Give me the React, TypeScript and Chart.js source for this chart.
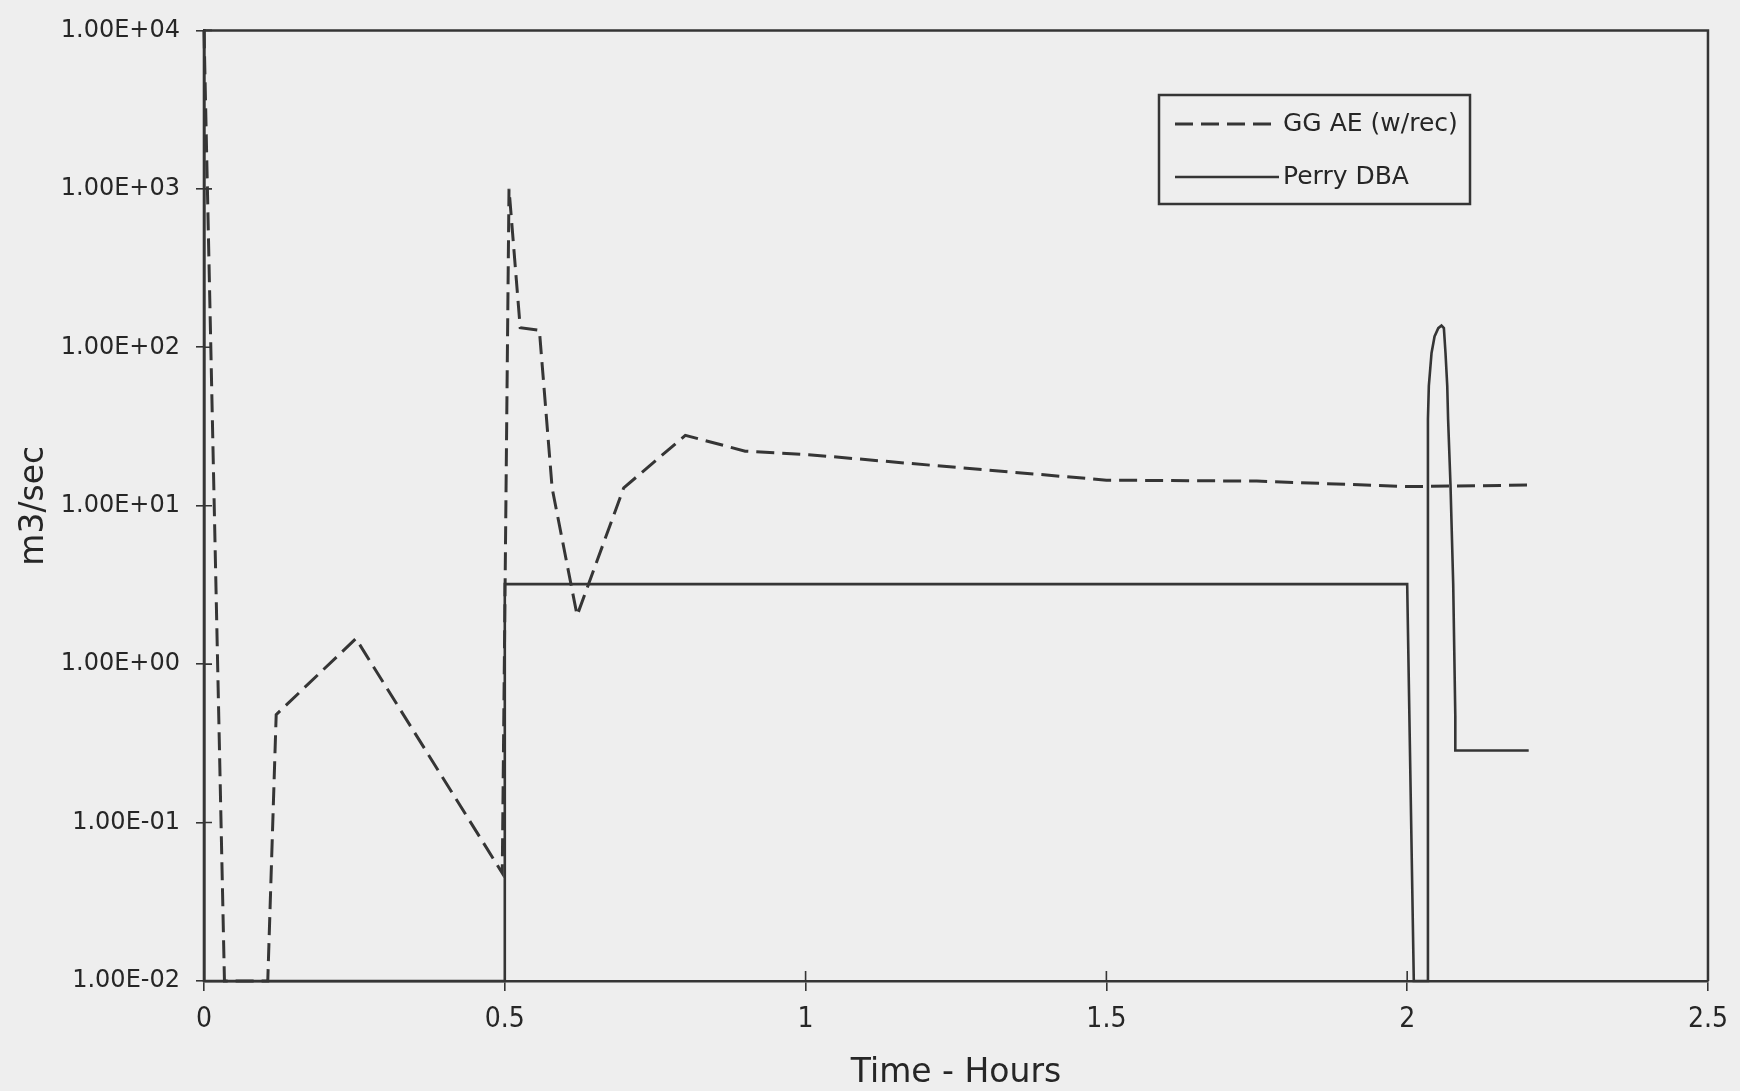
import React, { useEffect, useRef } from "react";
import { Chart, registerables } from "chart.js";

Chart.register(...registerables);

// ---- data ----
const seriesNames = ["GG AE (w/rec)", "Perry DBA"];

const ggHours = [0, 0.034, 0.106, 0.12, 0.2525, 0.4958, 0.507, 0.5256, 0.5575, 0.5787, 0.6202, 0.6977, 0.8001, 0.8996, 1.005, 1.209, 1.5, 1.75, 2.0, 2.202];
const ggRate = [10000, 0.01, 0.01, 0.48, 1.45, 0.048, 1000, 133, 128, 12.9, 2.03, 12.96, 27.8, 22.1, 21.0, 18.0, 14.5, 14.3, 13.2, 13.5];

const perryHours = [0, 0, 0.5, 0.5, 2.0, 2.011, 2.0334, 2.0345, 2.036, 2.0405, 2.0455, 2.0517, 2.057, 2.061, 2.0637, 2.0666, 2.068, 2.072, 2.0765, 2.08, 2.08, 2.202];
const perryRate = [10000, 0.01, 0.01, 3.2, 3.2, 0.01, 0.01, 35.3, 57, 92, 117, 132, 137, 132, 92, 57, 35.3, 13.5, 3.2, 0.47, 0.285, 0.285];

const xTickValues = [0, 0.5, 1, 1.5, 2, 2.5];
const xTickLabels = ["0", "0.5", "1", "1.5", "2", "2.5"];
const yTickValues = [0.01, 0.1, 1, 10, 100, 1000, 10000];
const yTickLabels = ["1.00E-02", "1.00E-01", "1.00E+00", "1.00E+01", "1.00E+02", "1.00E+03", "1.00E+04"];

const xTitle = "Time - Hours";
const yTitle = "m3/sec";

// ---- styles ----
const W = 1740;
const H = 1091;
const BG = "#eeeeee";
const INK = "#353535";
const TEXT = "#262626";
const DASH = [18, 8];

const framePlugin = {
  id: "frameAndLegend",
  afterDraw(chart: any) {
    const { ctx, chartArea: a, scales } = chart;
    ctx.save();
    ctx.strokeStyle = INK;
    ctx.lineWidth = 2.5;
    ctx.beginPath();
    ctx.moveTo(a.left, a.top);
    ctx.lineTo(a.right, a.top);
    ctx.lineTo(a.right, a.bottom);
    ctx.stroke();

    // inward halves of the crossing tick marks
    ctx.lineWidth = 1.6;
    ctx.beginPath();
    scales.y.ticks.forEach((t: any) => {
      const y = scales.y.getPixelForValue(t.value);
      ctx.moveTo(a.left, y);
      ctx.lineTo(a.left + 8, y);
    });
    scales.x.ticks.forEach((t: any) => {
      const x = scales.x.getPixelForValue(t.value);
      ctx.moveTo(x, a.bottom);
      ctx.lineTo(x, a.bottom - 10);
    });
    ctx.stroke();

    // legend box
    const bx = 1159, by = 95, bw = 311, bh = 109;
    ctx.lineWidth = 2.5;
    ctx.strokeRect(bx, by, bw, bh);
    const rows = [124, 177];
    chart.data.datasets.forEach((ds: any, i: number) => {
      const y = rows[i];
      ctx.beginPath();
      ctx.setLineDash(ds.borderDash || []);
      ctx.lineWidth = ds.borderWidth;
      ctx.strokeStyle = ds.borderColor;
      ctx.moveTo(1175, y);
      ctx.lineTo(1279, y);
      ctx.stroke();
      ctx.setLineDash([]);
      ctx.fillStyle = TEXT;
      ctx.font = "25px 'DejaVu Sans'";
      ctx.textAlign = "left";
      ctx.textBaseline = "middle";
      ctx.fillText(ds.label, 1283, y);
    });
    ctx.restore();
  },
};

export default function App() {
  const ref = useRef<HTMLCanvasElement | null>(null);

  useEffect(() => {
    document.body.style.margin = "0";
    document.body.style.background = BG;
    const canvas = ref.current;
    if (!canvas) return;

    const gg = ggHours.map((x, i) => ({ x, y: ggRate[i] }));
    const perry = perryHours.map((x, i) => ({ x, y: perryRate[i] }));

    const chart = new Chart(canvas, {
      type: "line",
      data: {
        datasets: [
          {
            label: seriesNames[0],
            data: gg,
            borderColor: INK,
            borderWidth: 3,
            borderDash: DASH,
            pointRadius: 0,
            tension: 0,
            fill: false,
            clip: 2,
          },
          {
            label: seriesNames[1],
            data: perry,
            borderColor: INK,
            borderWidth: 2.6,
            pointRadius: 0,
            tension: 0,
            fill: false,
            clip: 2,
          },
        ],
      },
      options: {
        responsive: false,
        animation: false,
        devicePixelRatio: 1,
        layout: { padding: { top: 21, right: 29, left: 0, bottom: 0 } },
        plugins: {
          legend: { display: false },
          tooltip: { enabled: false },
        },
        scales: {
          x: {
            type: "linear",
            min: 0,
            max: 2.5,
            afterBuildTicks: (s: any) => {
              s.ticks = xTickValues.map((v) => ({ value: v }));
            },
            afterFit: (s: any) => {
              s.height = 110;
            },
            ticks: {
              autoSkip: false,
              maxRotation: 0,
              padding: 12,
              color: TEXT,
              font: { family: "'Liberation Sans Narrow', 'DejaVu Sans Condensed', 'DejaVu Sans'", size: 28 },
              callback: (_v: any, i: number) => xTickLabels[i],
            },
            grid: { display: true, drawOnChartArea: false, drawTicks: true, tickLength: 10, color: INK, lineWidth: 1.6 },
            border: { display: true, color: INK, width: 2.6 },
            title: {
              display: true,
              text: xTitle,
              color: TEXT,
              font: { family: "'DejaVu Sans'", size: 33, lineHeight: 1 },
              padding: { top: 0, bottom: 1.5 },
            },
          },
          y: {
            type: "logarithmic",
            min: 0.01,
            max: 10000,
            afterBuildTicks: (s: any) => {
              s.ticks = yTickValues.map((v) => ({ value: v }));
            },
            afterFit: (s: any) => {
              s.width = 204;
            },
            ticks: {
              autoSkip: false,
              padding: 16,
              color: TEXT,
              font: { family: "'DejaVu Sans'", size: 24 },
              callback: (_v: any, i: number) => yTickLabels[i],
            },
            grid: { display: true, drawOnChartArea: false, drawTicks: true, tickLength: 8, color: INK, lineWidth: 1.6 },
            border: { display: true, color: INK, width: 2.6 },
            title: {
              display: true,
              text: yTitle,
              color: TEXT,
              font: { family: "'DejaVu Sans'", size: 33, lineHeight: 1 },
              padding: { top: 18, bottom: 0 },
            },
          },
        },
      },
      plugins: [framePlugin],
    } as any);

    return () => chart.destroy();
  }, []);

  return (
    <div style={{ width: W, height: H, background: BG }}>
      <canvas ref={ref} width={W} height={H} style={{ display: "block", width: W, height: H }} />
    </div>
  );
}
